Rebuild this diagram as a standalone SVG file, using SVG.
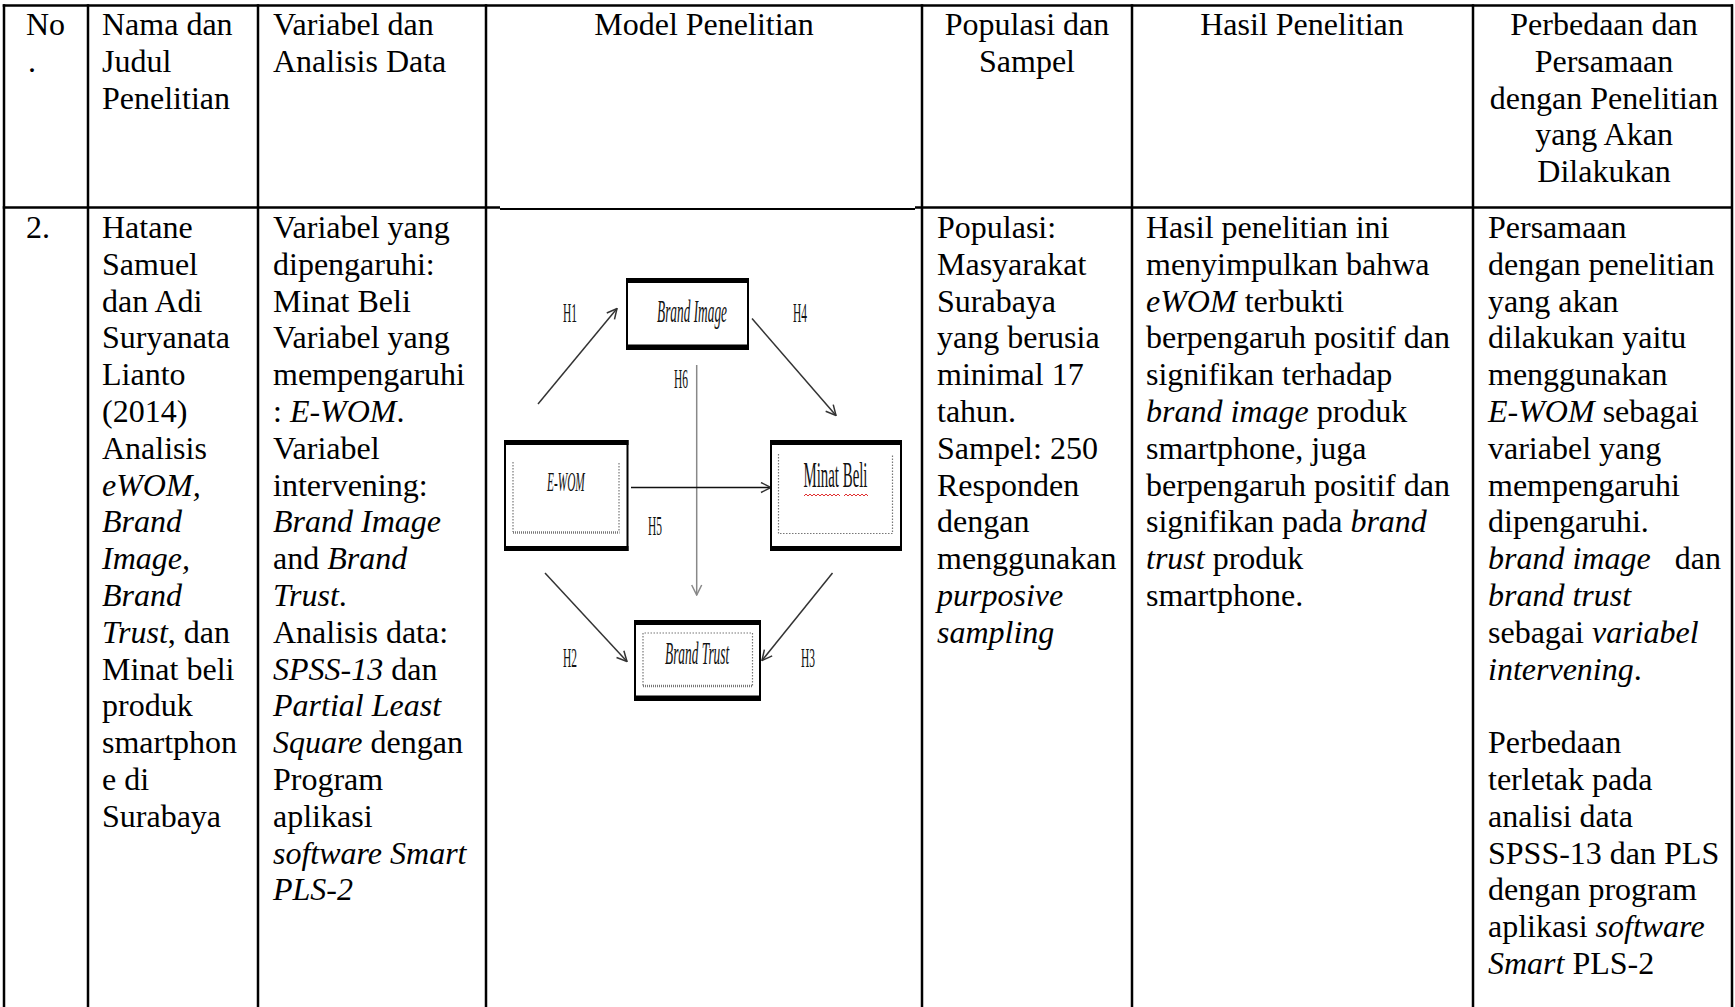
<svg xmlns="http://www.w3.org/2000/svg" width="1735" height="1007" viewBox="0 0 1735 1007">
  <style>
    .t { font-family: "Liberation Serif", "Times New Roman", serif; font-size: 32px; fill: #000; }
    .i { font-style: italic; }
    .c { text-anchor: middle; }
    .grid line { stroke: #000; stroke-width: 2.5; }
    .box { fill: #fff; stroke: #000; stroke-width: 2; }
    .band { stroke: #000; stroke-width: 5; }
    .inner { fill: none; stroke: #777; stroke-width: 1.2; stroke-dasharray: 1.5 1.5; }
    .wavy { stroke: #777; stroke-width: 2.5; stroke-dasharray: 1 1; }
    .lbl { font-family: "Liberation Serif", "Times New Roman", serif; fill: #111; }
    .edge { stroke: #333; stroke-width: 1.5; fill: none; }
  </style>
  <defs>
    <marker id="v" viewBox="0 0 12 12" refX="11" refY="6" markerWidth="12" markerHeight="12" markerUnits="userSpaceOnUse" orient="auto">
      <path d="M1,1 L11,6 L1,11" fill="none" stroke="#333" stroke-width="1.5"/>
    </marker>
    <marker id="vg" viewBox="0 0 12 12" refX="11" refY="6" markerWidth="12" markerHeight="12" markerUnits="userSpaceOnUse" orient="auto">
      <path d="M1,1 L11,6 L1,11" fill="none" stroke="#888" stroke-width="1.5"/>
    </marker>
  </defs>

  <rect width="1735" height="1007" fill="#fff"/>

  <!-- table rules -->
  <g id="grid" class="grid">
    <line x1="2.75" y1="5.5" x2="1733" y2="5.5"/>
    <line x1="2.75" y1="207.5" x2="500" y2="207.5"/>
    <line x1="500" y1="209" x2="915" y2="209" style="stroke-width:1.8"/>
    <line x1="915" y1="207.5" x2="1733" y2="207.5"/>
    <line x1="4" y1="4.25" x2="4" y2="1007"/>
    <line x1="88" y1="4.25" x2="88" y2="1007"/>
    <line x1="258" y1="4.25" x2="258" y2="1007"/>
    <line x1="486" y1="4.25" x2="486" y2="1007"/>
    <line x1="922" y1="4.25" x2="922" y2="1007"/>
    <line x1="1132" y1="4.25" x2="1132" y2="1007"/>
    <line x1="1473" y1="4.25" x2="1473" y2="1007"/>
    <line x1="1732" y1="4.25" x2="1732" y2="1007"/>
  </g>

  <!-- header row -->
  <g id="header" class="t">
    <text x="26" y="35">No</text>
    <text x="28" y="71.8">.</text>
    <text x="102" y="35">Nama dan</text>
    <text x="102" y="71.8">Judul</text>
    <text x="102" y="108.6">Penelitian</text>
    <text x="273" y="35">Variabel dan</text>
    <text x="273" y="71.8">Analisis Data</text>
    <text class="c" x="704" y="35">Model Penelitian</text>
    <text class="c" x="1027" y="35">Populasi dan</text>
    <text class="c" x="1027" y="71.8">Sampel</text>
    <text class="c" x="1302" y="35">Hasil Penelitian</text>
    <text class="c" x="1604" y="35">Perbedaan dan</text>
    <text class="c" x="1604" y="71.8">Persamaan</text>
    <text class="c" x="1604" y="108.6">dengan Penelitian</text>
    <text class="c" x="1604" y="145.4">yang Akan</text>
    <text class="c" x="1604" y="182.2">Dilakukan</text>
  </g>

  <!-- row 2: number, author and title -->
  <g id="row2-author" class="t">
    <text x="26" y="238">2.</text>
    <text x="102" y="238">Hatane</text>
    <text x="102" y="274.8">Samuel</text>
    <text x="102" y="311.6">dan Adi</text>
    <text x="102" y="348.4">Suryanata</text>
    <text x="102" y="385.2">Lianto</text>
    <text x="102" y="422">(2014)</text>
    <text x="102" y="458.8">Analisis</text>
    <text x="102" y="495.6" class="i">eWOM,</text>
    <text x="102" y="532.4" class="i">Brand</text>
    <text x="102" y="569.2" class="i">Image,</text>
    <text x="102" y="606" class="i">Brand</text>
    <text x="102" y="642.8"><tspan class="i">Trust</tspan>, dan</text>
    <text x="102" y="679.6">Minat beli</text>
    <text x="102" y="716.4">produk</text>
    <text x="102" y="753.2">smartphon</text>
    <text x="102" y="790">e di</text>
    <text x="102" y="826.8">Surabaya</text>
  </g>

  <!-- row 2: variables and analysis -->
  <g id="row2-variables" class="t">
    <text x="273" y="238">Variabel yang</text>
    <text x="273" y="274.8">dipengaruhi:</text>
    <text x="273" y="311.6">Minat Beli</text>
    <text x="273" y="348.4">Variabel yang</text>
    <text x="273" y="385.2">mempengaruhi</text>
    <text x="273" y="422">: <tspan class="i">E-WOM</tspan>.</text>
    <text x="273" y="458.8">Variabel</text>
    <text x="273" y="495.6">intervening:</text>
    <text x="273" y="532.4" class="i">Brand Image</text>
    <text x="273" y="569.2">and <tspan class="i">Brand</tspan></text>
    <text x="273" y="606"><tspan class="i">Trust</tspan>.</text>
    <text x="273" y="642.8">Analisis data:</text>
    <text x="273" y="679.6"><tspan class="i">SPSS-13</tspan> dan</text>
    <text x="273" y="716.4" class="i">Partial Least</text>
    <text x="273" y="753.2"><tspan class="i">Square</tspan> dengan</text>
    <text x="273" y="790">Program</text>
    <text x="273" y="826.8">aplikasi</text>
    <text x="273" y="863.6" class="i">software Smart</text>
    <text x="273" y="900.4" class="i">PLS-2</text>
  </g>

  <!-- row 2: population and sample -->
  <g id="row2-population" class="t">
    <text x="937" y="238">Populasi:</text>
    <text x="937" y="274.8">Masyarakat</text>
    <text x="937" y="311.6">Surabaya</text>
    <text x="937" y="348.4">yang berusia</text>
    <text x="937" y="385.2">minimal 17</text>
    <text x="937" y="422">tahun.</text>
    <text x="937" y="458.8">Sampel: 250</text>
    <text x="937" y="495.6">Responden</text>
    <text x="937" y="532.4">dengan</text>
    <text x="937" y="569.2">menggunakan</text>
    <text x="937" y="606" class="i">purposive</text>
    <text x="937" y="642.8" class="i">sampling</text>
  </g>

  <!-- row 2: results -->
  <g id="row2-results" class="t">
    <text x="1146" y="238">Hasil penelitian ini</text>
    <text x="1146" y="274.8">menyimpulkan bahwa</text>
    <text x="1146" y="311.6"><tspan class="i">eWOM</tspan> terbukti</text>
    <text x="1146" y="348.4">berpengaruh positif dan</text>
    <text x="1146" y="385.2">signifikan terhadap</text>
    <text x="1146" y="422"><tspan class="i">brand image</tspan> produk</text>
    <text x="1146" y="458.8">smartphone, juga</text>
    <text x="1146" y="495.6">berpengaruh positif dan</text>
    <text x="1146" y="532.4">signifikan pada <tspan class="i">brand</tspan></text>
    <text x="1146" y="569.2"><tspan class="i">trust</tspan> produk</text>
    <text x="1146" y="606">smartphone.</text>
  </g>

  <!-- row 2: differences and similarities -->
  <g id="row2-comparison" class="t">
    <text x="1488" y="238">Persamaan</text>
    <text x="1488" y="274.8">dengan penelitian</text>
    <text x="1488" y="311.6">yang akan</text>
    <text x="1488" y="348.4">dilakukan yaitu</text>
    <text x="1488" y="385.2">menggunakan</text>
    <text x="1488" y="422"><tspan class="i">E-WOM</tspan> sebagai</text>
    <text x="1488" y="458.8">variabel yang</text>
    <text x="1488" y="495.6">mempengaruhi</text>
    <text x="1488" y="532.4">dipengaruhi.</text>
    <text x="1488" y="569.2" class="i">brand image</text>
    <text x="1721" y="569.2" text-anchor="end">dan</text>
    <text x="1488" y="606" class="i">brand trust</text>
    <text x="1488" y="642.8">sebagai <tspan class="i">variabel</tspan></text>
    <text x="1488" y="679.6"><tspan class="i">intervening</tspan>.</text>
    <text x="1488" y="753.2">Perbedaan</text>
    <text x="1488" y="790">terletak pada</text>
    <text x="1488" y="826.8">analisi data</text>
    <text x="1488" y="863.6">SPSS-13 dan PLS</text>
    <text x="1488" y="900.4">dengan program</text>
    <text x="1488" y="937.2">aplikasi <tspan class="i">software</tspan></text>
    <text x="1488" y="974"><tspan class="i">Smart</tspan> PLS-2</text>
  </g>

  <!-- research model: paths -->
  <g id="connectors">
    <line class="edge" x1="538" y1="404" x2="617" y2="308.5" marker-end="url(#v)"/>
    <line class="edge" x1="752" y1="318.5" x2="836" y2="415.5" marker-end="url(#v)"/>
    <line x1="696.7" y1="365" x2="696.7" y2="595" stroke="#888" stroke-width="1.5" marker-end="url(#vg)"/>
    <line class="edge" x1="631" y1="487.5" x2="771" y2="487.5" marker-end="url(#v)" style="stroke:#111"/>
    <line class="edge" x1="545" y1="573" x2="627" y2="661.5" marker-end="url(#v)"/>
    <line class="edge" x1="832.5" y1="573" x2="762" y2="660.5" marker-end="url(#v)"/>
  </g>

  <!-- research model: path labels (condensed face) -->
  <g id="path-labels" class="lbl" font-size="28">
    <text transform="translate(563,322) scale(0.41,1)">H1</text>
    <text transform="translate(793,322) scale(0.41,1)">H4</text>
    <text transform="translate(674,388) scale(0.41,1)">H6</text>
    <text transform="translate(648,535) scale(0.41,1)">H5</text>
    <text transform="translate(563,667) scale(0.41,1)">H2</text>
    <text transform="translate(801,667) scale(0.41,1)">H3</text>
  </g>

  <!-- research model: constructs -->
  <g id="node-brand-image">
    <rect class="box" x="627" y="279" width="121" height="70"/>
    <line class="band" x1="626" y1="280.5" x2="749" y2="280.5"/>
    <line class="band" x1="626" y1="347" x2="749" y2="347"/>
    <text class="lbl i" font-size="31" transform="translate(657,322) scale(0.43,1)">Brand Image</text>
  </g>

  <g id="node-ewom">
    <rect class="box" x="505" y="441" width="122.5" height="109"/>
    <line class="band" x1="504" y1="442.5" x2="628.5" y2="442.5"/>
    <line class="band" x1="504" y1="548.5" x2="628.5" y2="548.5"/>
    <line class="inner" x1="513" y1="462" x2="513" y2="532"/>
    <line class="inner" x1="619" y1="463" x2="619" y2="532"/>
    <line class="wavy" x1="513" y1="532.5" x2="619.5" y2="532.5"/>
    <text class="lbl i" font-size="27" transform="translate(547,491) scale(0.42,1)">E-WOM</text>
  </g>

  <g id="node-minat-beli">
    <rect class="box" x="771" y="441" width="130" height="109"/>
    <line class="band" x1="770" y1="442.5" x2="902" y2="442.5"/>
    <line class="band" x1="770" y1="548.5" x2="902" y2="548.5"/>
    <path class="inner" d="M778.5,454 V533.5 H892.5 V454"/>
    <text class="lbl" font-size="36" transform="translate(803.5,487) scale(0.413,1)">Minat Beli</text>
    <path d="M804,496 l2,-2 l2,2 l2,-2 l2,2 l2,-2 l2,2 l2,-2 l2,2 l2,-2 l2,2 l2,-2 l2,2 l2,-2 l2,2 l2,-2 l2,2 l2,-2 l2,2 M844,496 l2,-2 l2,2 l2,-2 l2,2 l2,-2 l2,2 l2,-2 l2,2 l2,-2 l2,2 l2,-2 l2,2" fill="none" stroke="#e03030" stroke-width="1"/>
  </g>

  <g id="node-brand-trust">
    <rect class="box" x="635" y="621" width="125" height="79"/>
    <line class="band" x1="634" y1="622.5" x2="761" y2="622.5"/>
    <line class="band" x1="634" y1="698" x2="761" y2="698"/>
    <path class="inner" d="M643,685.5 V633 H752.5 V685.5"/>
    <line class="wavy" x1="643" y1="686" x2="753" y2="686"/>
    <text class="lbl i" font-size="31" transform="translate(665,663.5) scale(0.431,1)">Brand Trust</text>
  </g>
</svg>
